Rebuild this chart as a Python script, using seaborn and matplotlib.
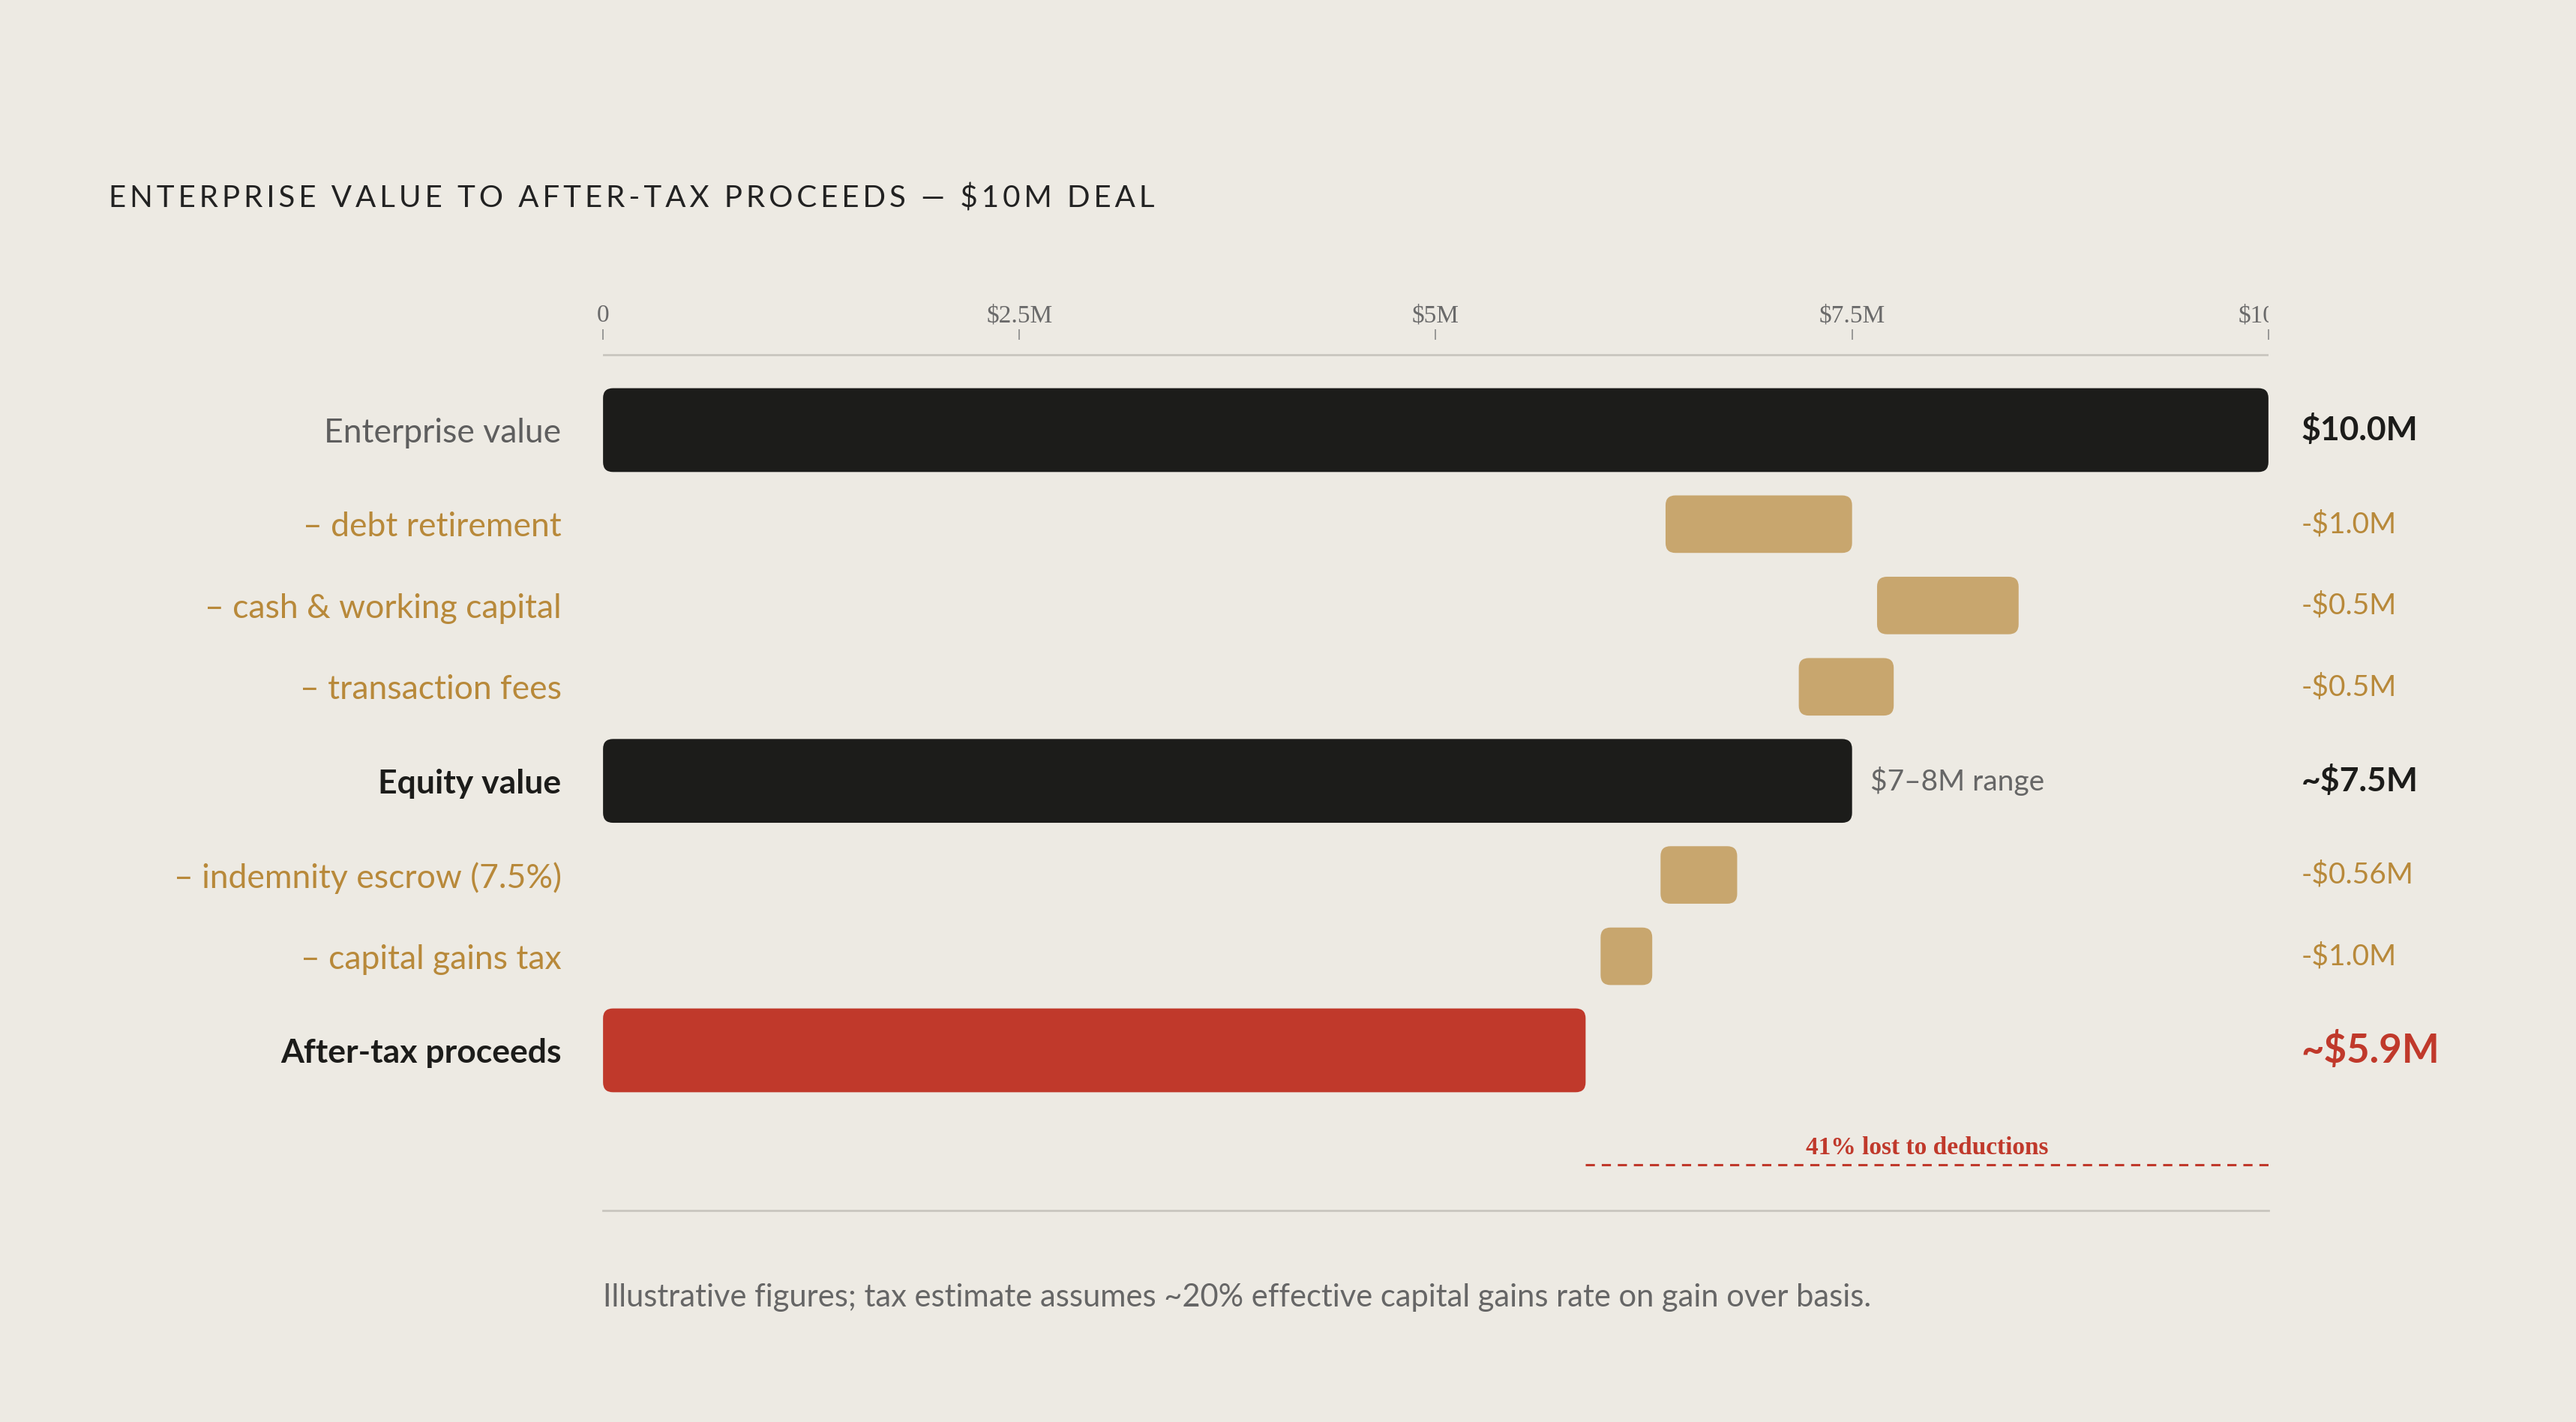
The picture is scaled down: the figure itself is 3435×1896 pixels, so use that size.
import numpy as np
import matplotlib
matplotlib.use("Agg")
import matplotlib.pyplot as plt
import seaborn as sns
from matplotlib.patches import FancyBboxPatch
from matplotlib.transforms import Bbox, TransformedBbox

# chart data
row_labels = ["Enterprise value", "– debt retirement", "– cash & working capital",
              "– transaction fees", "Equity value", "– indemnity escrow (7.5%)",
              "– capital gains tax", "After-tax proceeds"]
row_kind = ["total", "deduction", "deduction", "deduction", "total",
            "deduction", "deduction", "result"]
bar_start = [0, 6.38, 7.65, 7.18, 0, 6.35, 5.99, 0]
bar_end = [10.0, 7.5, 8.5, 7.75, 7.5, 6.81, 6.30, 5.9]
value_labels = ["$10.0M", "-$1.0M", "-$0.5M", "-$0.5M", "~$7.5M", "-$0.56M", "-$1.0M", "~$5.9M"]
tick_values = [0, 2.5, 5, 7.5, 10]
tick_labels = ["0", "$2.5M", "$5M", "$7.5M", "$10M"]
equity_note = "$7–8M range"
loss_note = "41% lost to deductions"
title = "ENTERPRISE VALUE TO AFTER-TAX PROCEEDS — $10M DEAL"
footer = "Illustrative figures; tax estimate assumes ~20% effective capital gains rate on gain over basis."

BG = "#EDEAE3"
BLACK = "#1C1C1A"
GOLD = "#C8A66E"
GOLD_TXT = "#B8893A"
RED = "#C0392B"
GRAY = "#5E5E5E"
LINE = "#C9C6BF"

sns.set_theme(style="white", rc={"axes.facecolor": BG, "figure.facecolor": BG})
plt.rcParams["font.family"] = ["Lato", "DejaVu Sans"]

# row layout (vertical units ~ screen px of the design)
slot = {"total": 65, "result": 65, "deduction": 49.5}
bar_h = {"total": 51, "result": 51, "deduction": 35}
centers = []
y = 262 - 32.5
for k in row_kind:
    y += slot[k] / 2
    centers.append(y)
    y += slot[k] / 2
centers = np.array(centers)

fig = plt.figure(figsize=(17.175, 9.48), dpi=200)
ax = fig.add_axes([0.2341, 0.1487, 0.8806 - 0.2341, 0.7611 - 0.1487])

sns.barplot(x=bar_end, y=centers, orient="h", native_scale=True, width=0.7,
            color=BLACK, ax=ax)

bar_colors = {"total": BLACK, "result": RED, "deduction": GOLD}
order = np.argsort(centers)
for p, i in zip(list(ax.patches), order):
    k = row_kind[i]
    y0 = centers[i] - bar_h[k] / 2
    rb = FancyBboxPatch((bar_start[i], y0), bar_end[i] - bar_start[i], bar_h[k],
                        boxstyle="round,pad=0,rounding_size=0.06", mutation_aspect=100,
                        facecolor=bar_colors[k], edgecolor="none", zorder=3)
    ax.add_patch(rb)
    p.set_visible(False)

ax.set_xlim(0, 10)
ax.set_ylim(737, 207)

# axes decoration
for s in ["left", "right", "top"]:
    ax.spines[s].set_visible(False)
ax.spines["bottom"].set_color(LINE)
ax.spines["bottom"].set_linewidth(1.0)
ax.axhline(216, color=LINE, lw=1.0, zorder=1)

ax.xaxis.tick_top()
ax.set_xticks(tick_values, tick_labels)
ax.tick_params(axis="x", top=True, bottom=False, direction="out", length=5,
               width=0.6, color="#8A8A8A", pad=1, labelsize=12, labelcolor="#6A6A6A")
clip = TransformedBbox(Bbox([[-1, -1], [1, 3]]), ax.transAxes)
for t in ax.xaxis.get_major_ticks():
    t.label2.set_fontfamily(["Liberation Serif", "DejaVu Serif"])
    t.label2.set_clip_box(clip)
    t.label2.set_clip_on(True)

ax.set_yticks(centers, row_labels)
ax.tick_params(axis="y", left=False, pad=14, labelsize=16)
label_style = {"total": (GRAY, "normal"), "deduction": (GOLD_TXT, "normal"),
               "result": (BLACK, "bold")}
for i, t in enumerate(ax.get_yticklabels()):
    col, wt = label_style[row_kind[i]]
    if i == 4:
        col, wt = BLACK, "bold"
    t.set_color(col)
    t.set_fontweight(wt)
ax.set_xlabel("")
ax.set_ylabel("")

# right-hand value labels
ytr = ax.get_yaxis_transform()
for i, txt in enumerate(value_labels):
    k = row_kind[i]
    if k == "deduction":
        ax.text(1.0198, centers[i], txt, transform=ytr, ha="left", va="center",
                fontsize=14, color=GOLD_TXT, clip_on=False)
    elif k == "result":
        ax.text(1.0198, centers[i], txt, transform=ytr, ha="left", va="center",
                fontsize=19, fontweight="bold", color=RED, clip_on=False)
    else:
        ax.text(1.0198, centers[i], txt, transform=ytr, ha="left", va="center",
                fontsize=16, fontweight="bold", color=BLACK, clip_on=False)

ax.annotate(equity_note, xy=(bar_end[4], centers[4]), xytext=(8.6, 0),
            textcoords="offset points", ha="left", va="center", fontsize=14, color="#666666")

# deduction bracket
ax.hlines(709, bar_end[7], bar_end[0], colors=RED, linestyles=(0, (4, 3)), lw=1.1)
ax.text((bar_end[7] + bar_end[0]) / 2, 699, loss_note, ha="center", va="center",
        fontsize=12, fontweight="bold", color=RED,
        fontfamily=["Liberation Serif", "DejaVu Serif"])

spaced = "\u2009".join(title)
fig.text(145 / 3435, 1 - 265 / 1896, spaced, ha="left", va="center", fontsize=14.5,
         color="#222222", family=["Lato", "DejaVu Sans"])
fig.text(804 / 3435, 1 - 1730 / 1896, footer, ha="left", va="center", fontsize=15,
         color="#666666")

fig.savefig("out.png", dpi=200, facecolor=BG)
